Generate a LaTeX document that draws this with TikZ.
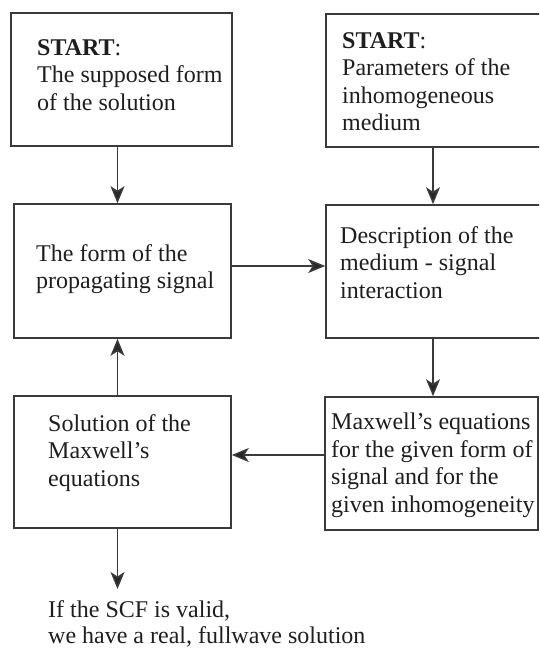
\documentclass[tikz,border=0pt]{standalone}
\usepackage{fontspec}
\setmainfont{Liberation Serif}
\usetikzlibrary{arrows.meta}
\definecolor{ink}{HTML}{1E1E1E}
\definecolor{frame}{HTML}{3A3A3A}
\begin{document}
\begin{tikzpicture}[x=1pt,y=-1pt,
  boxnode/.style={draw=frame,line width=1.6pt,inner sep=0pt,fill=none},
  txt/.style={anchor=north west,inner sep=0pt,align=left,text=ink,
    font=\fontsize{24}{27.5}\selectfont},
  arr/.style={draw=frame,line width=1.5pt,-{Stealth[length=17pt,width=14pt,inset=4.5pt,fill=black!85]}}]
\useasboundingbox (0,0) rectangle (539,650);
\clip (0,0) rectangle (539,650);
% boxes
\node[boxnode,minimum width=221pt,minimum height=133pt] (b1) at (121.5,79.5) {};
\node[boxnode,minimum width=224pt,minimum height=133pt] (b2) at (438,80.5) {};
\node[boxnode,minimum width=217pt,minimum height=134pt] (b3) at (122.5,271) {};
\node[boxnode,minimum width=224pt,minimum height=133pt] (b4) at (438,271.5) {};
\node[boxnode,minimum width=217pt,minimum height=132pt] (b5) at (122.5,462) {};
\node[boxnode,minimum width=213pt,minimum height=133pt] (b6) at (431.5,463.5) {};
% texts
\node[txt] (t1) at (37,39) {\textbf{START}:\\The supposed form\\of the solution};
\node[txt] (t2) at (342,32) {\textbf{START}:\\Parameters of the\\inhomogeneous\\medium};
\node[txt] (t3) at (36,244) {The form of the\\propagating signal};
\node[txt] (t4) at (340,226) {Description of the\\medium - signal\\interaction};
\node[txt] (t5) at (48,414) {Solution of the\\Maxwell’s\\equations};
\node[txt] (t6) at (331,413) {Maxwell’s equations\\for the given form of\\signal and for the\\given inhomogeneity};
\node[txt,font=\fontsize{24}{26}\selectfont] (t7) at (48,600) {If the SCF is valid,\\we have a real, fullwave solution};
% helper coordinates
\coordinate (cl) at (117.5,0);
\coordinate (cr) at (433,0);
\coordinate (r1) at (0,266);
\coordinate (r2) at (0,455);
\coordinate (out) at (117.5,589);
% connectors
\draw[arr] (b1.south -| cl) -- (b3.north -| cl);
\draw[arr] (b2.south -| cr) -- (b4.north -| cr);
\draw[arr] (b3.east |- r1) -- (b4.west |- r1);
\draw[arr] (b4.south -| cr) -- (b6.north -| cr);
\draw[arr] (b6.west |- r2) -- (b5.east |- r2);
\draw[arr] (b5.north -| cl) -- (b3.south -| cl);
\draw[arr] (b5.south -| cl) -- (out);
\end{tikzpicture}
\end{document}
